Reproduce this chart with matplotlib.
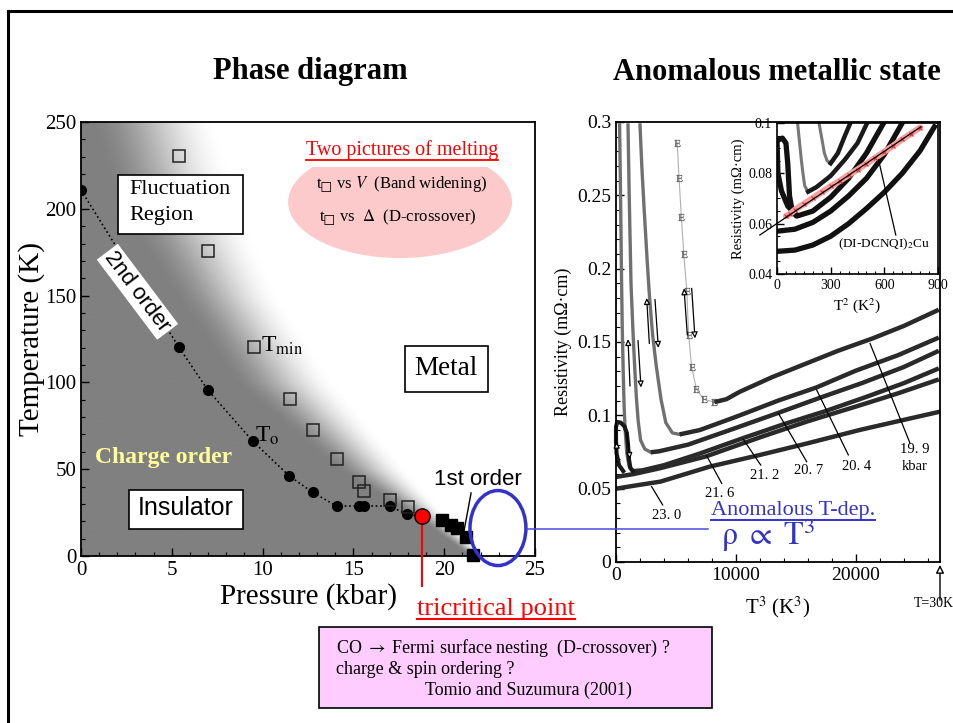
import numpy as np
import matplotlib
matplotlib.use('Agg')
import matplotlib.pyplot as plt
from matplotlib.patches import Ellipse, Rectangle
from matplotlib.lines import Line2D
from matplotlib.ticker import MultipleLocator, FuncFormatter

plt.rcParams['font.family'] = ['Liberation Serif', 'DejaVu Serif']
plt.rcParams['mathtext.fontset'] = 'stix'

W, H = 954, 723
SANS = ['Liberation Sans', 'DejaVu Sans']

# ---- phase diagram (P in kbar, T in K) ----
to_p = [0, 5.37, 6.97, 9.46, 11.47, 12.75, 14.07, 15.3, 15.56, 17.0, 17.94]
to_t = [210.8, 120.6, 95.8, 66.1, 46.1, 36.7, 28.8, 28.8, 28.8, 28.8, 24.0]
tmin_p = [5.4, 7.0, 9.5, 11.5, 12.8, 14.1, 15.3, 15.6, 17.0, 18.0]
tmin_t = [230.6, 175.7, 120.6, 90.6, 72.6, 55.7, 42.8, 37.6, 32.3, 28.0]
first_p = [19.9, 20.4, 20.7, 21.2, 21.6]
first_t = [21.0, 18.0, 16.0, 11.0, 0.5]
tcp_p, tcp_t = 18.8, 23.0

# insulator -> metal shading: centre of the fade and its half width
shade_t = [0, 25, 50, 100, 150, 200, 250]
shade_p = [21.8, 19.0, 16.0, 11.2, 8.0, 5.4, 4.0]
shade_w = [0.4, 1.0, 2.0, 2.9, 3.0, 3.6, 3.6]

# ---- resistivity vs T^3 (K^3, mOhm cm) ----
p199_x = [5100, 5250, 5450, 5650, 5900, 6050, 6300, 6700, 7300, 8200, 9200, 10300, 13000, 15900, 18500, 21400, 24000, 26900]
p199_y = [0.286, 0.262, 0.235, 0.210, 0.185, 0.155, 0.133, 0.118, 0.111, 0.109, 0.111, 0.116, 0.126, 0.1355, 0.144, 0.1525, 0.161, 0.172]
p204_x = [2000, 2150, 2350, 2600, 2800, 3050, 3350, 3750, 4150, 4700, 5300, 7000, 10000, 13500, 16700, 20000, 23500, 26900]
p204_y = [0.298, 0.270, 0.240, 0.205, 0.180, 0.155, 0.134, 0.111, 0.095, 0.088, 0.087, 0.090, 0.099, 0.110, 0.119, 0.1305, 0.141, 0.153]
p207_x = [1000, 1100, 1250, 1400, 1550, 1700, 1850, 2050, 2400, 2900, 3600, 6000, 9500, 13500, 17000, 20500, 24000, 26900]
p207_y = [0.298, 0.250, 0.190, 0.160, 0.134, 0.112, 0.096, 0.083, 0.077, 0.0748, 0.0755, 0.080, 0.090, 0.1016, 0.112, 0.122, 0.133, 0.144]
p212_x = [300, 380, 450, 520, 600, 680, 780, 900, 1100, 1500, 2200, 4000, 7000, 10600, 14000, 17500, 21000, 24000, 26900]
p212_y = [0.298, 0.250, 0.200, 0.160, 0.130, 0.105, 0.088, 0.074, 0.065, 0.062, 0.0625, 0.066, 0.074, 0.0845, 0.094, 0.103, 0.113, 0.122, 0.132]
p216_x = [0, 1500, 3700, 7500, 12000, 16000, 20000, 23500, 26900]
p216_y = [0.0580, 0.0600, 0.0640, 0.0720, 0.0850, 0.0960, 0.1060, 0.1150, 0.1245]
p230_x = [0, 1500, 3700, 7800, 12000, 16000, 20300, 23500, 27000]
p230_y = [0.0500, 0.0520, 0.0548, 0.0650, 0.0730, 0.0810, 0.0900, 0.0960, 0.1025]
loop_x = [600, 250, 50, 0, 0, 100, 400, 700, 900, 1000, 1080, 1200, 1400]
loop_y = [0.062, 0.066, 0.074, 0.082, 0.092, 0.0955, 0.0950, 0.0925, 0.088, 0.080, 0.070, 0.064, 0.062]

# hysteresis arrows (start -> end)
hyst_x0 = [5944, 6306, 2778, 3250, 1167, 1833, 55, 889]
hyst_y0 = [0.1548, 0.1866, 0.149, 0.179, 0.120, 0.151, 0.077, 0.0884]
hyst_x1 = [5667, 6583, 2556, 3528, 1000, 2083, 55, 1167]
hyst_y1 = [0.1866, 0.1525, 0.180, 0.146, 0.152, 0.119, 0.082, 0.0702]

# pressure labels with leader lines
lab_text = ['19. 9', '20. 4', '20. 7', '21. 2', '21. 6', '23. 0']
lab_x = [24917, 20060, 16030, 12420, 8670, 4220]
lab_y = [0.0764, 0.065, 0.0627, 0.0593, 0.0468, 0.032]
lead_x0 = [24500, 19360, 15890, 12060, 8810, 3890]
lead_y0 = [0.081, 0.073, 0.0684, 0.0661, 0.0536, 0.0389]
lead_x1 = [21170, 16720, 13530, 10610, 7560, 2970]
lead_y1 = [0.149, 0.1173, 0.1014, 0.0836, 0.0723, 0.0514]

# ---- inset: resistivity vs T^2 ----
in204_x = [235, 245, 255, 265, 280, 300, 340, 380, 410]
in204_y = [0.1, 0.096, 0.092, 0.088, 0.085, 0.084, 0.088, 0.095, 0.1]
in207_x = [115, 125, 135, 145, 155, 174, 220, 300, 380, 450, 504]
in207_y = [0.1, 0.093, 0.086, 0.080, 0.075, 0.0727, 0.0745, 0.079, 0.0855, 0.092, 0.1]
in212_x = [100, 60, 25, 5, 0, 30, 50, 60, 70, 85, 110, 200, 300, 400, 500, 596]
in212_y = [0.064, 0.067, 0.073, 0.080, 0.093, 0.094, 0.092, 0.084, 0.071, 0.065, 0.063, 0.065, 0.0705, 0.078, 0.088, 0.1]
in216_x = [0, 100, 200, 300, 400, 500, 600, 700]
in216_y = [0.057, 0.0578, 0.0605, 0.065, 0.071, 0.078, 0.0875, 0.1]
in230_x = [0, 100, 200, 300, 400, 500, 600, 700, 800, 880]
in230_y = [0.049, 0.0495, 0.0515, 0.055, 0.060, 0.066, 0.0725, 0.080, 0.089, 0.0985]
cu_x = [50, 75, 100, 150, 200, 250, 300, 350, 400, 450, 500, 550, 600, 650, 700, 750, 800]
cu_y = [0.0630, 0.0640, 0.0655, 0.0678, 0.0702, 0.0725, 0.0748, 0.0770, 0.0793, 0.0815,
        0.0838, 0.0862, 0.0886, 0.0910, 0.0935, 0.0958, 0.0982]
fit_x = [-96, 804]
fit_y = [0.0555, 0.0985]


def box(px0, py0, px1, py1):
    return [px0 / W, 1 - py1 / H, (px1 - px0) / W, (py1 - py0) / H]


fig = plt.figure(figsize=(W / 100, H / 100), dpi=100)


def put(px, py, s, **kw):
    return fig.text(px / W, 1 - py / H, s, **kw)


def underline(t, color, lw=1.3, off=2):
    fig.canvas.draw()
    bb = t.get_window_extent()
    y = bb.y0 + off
    fig.add_artist(Line2D([bb.x0 / W, bb.x1 / W], [y / H, y / H], color=color, lw=lw,
                          transform=fig.transFigure))


# slide frame
fig.add_artist(Line2D([8 / W, 1.01], [1 - 11 / H] * 2, color='k', lw=2.2, transform=fig.transFigure))
fig.add_artist(Line2D([8 / W] * 2, [1 - 11 / H, -0.01], color='k', lw=2.2, transform=fig.transFigure))

put(310, 72, 'Phase diagram', fontsize=22, fontweight='bold', ha='center', va='center')
put(777, 72, 'Anomalous metallic state', fontsize=22, fontweight='bold', ha='center', va='center')

# ================= phase diagram =================
ax = fig.add_axes(box(81, 122, 535, 556))
pp, tt = np.meshgrid(np.linspace(0, 25, 600), np.linspace(0, 250, 600))
pm = np.interp(tt, shade_t, shade_p)
hw = np.interp(tt, shade_t, shade_w)
s = np.clip((pp - pm + hw) / (2 * hw), 0, 1)
s = s * s * (3 - 2 * s)
ax.imshow(0.5 + 0.5 * s, cmap='gray', vmin=0, vmax=1, extent=[0, 25, 0, 250],
          origin='lower', aspect='auto', interpolation='bilinear', zorder=0)
ax.set_xlim(0, 25)
ax.set_ylim(0, 250)
ax.xaxis.set_major_locator(MultipleLocator(5))
ax.xaxis.set_minor_locator(MultipleLocator(1))
ax.yaxis.set_major_locator(MultipleLocator(50))
ax.yaxis.set_minor_locator(MultipleLocator(10))
ax.tick_params(which='both', direction='in', labelsize=15)
ax.tick_params(which='major', length=6, width=1)
ax.tick_params(which='minor', length=3, width=0.8)
for sp in ax.spines.values():
    sp.set_linewidth(1.3)
ax.set_xlabel('Pressure (kbar)', fontsize=21, labelpad=2)
ax.set_ylabel('Temperature (K)', fontsize=21, labelpad=0)

# pink "melting" bubble, flattened on top by the heading
ax.add_patch(Ellipse((17.57, 203.9), 12.33, 64.5, fc='#fccaca', ec='none', zorder=1))
ax.add_patch(Rectangle((11.5, 224.3), 11.5, 30, fc='white', ec='none', zorder=1))

ax.plot(to_p + [tcp_p], to_t + [tcp_t], ls=':', color='k', lw=1.2, zorder=2)
ax.plot(to_p, to_t, 'o', color='k', ms=7, zorder=3)
ax.plot(tmin_p, tmin_t, 's', mfc='none', mec='#222222', mew=1.1, ms=8, zorder=3)
ax.plot(first_p, first_t, 's', color='k', ms=8, clip_on=False, zorder=3)
ax.plot([tcp_p, tcp_p], [tcp_t, -17], color='red', lw=1.5, clip_on=False, zorder=3)
ax.plot(tcp_p, tcp_t, 'o', mfc='red', mec='k', ms=11, mew=1, zorder=4)
ax.plot([21.48, 21.07], [36.3, 13.2], color='k', lw=1, zorder=3)

ax.add_patch(Rectangle((2.04, 185.5), 6.88, 34.0, fc='white', ec='k', lw=1.2, zorder=4))
ax.text(2.64, 211.4, 'Fluctuation', fontsize=16, va='center', zorder=5)
ax.text(2.64, 195.9, 'Region', fontsize=16, va='center', zorder=5)
ax.add_patch(Rectangle((17.82, 94.5), 4.59, 26.6, fc='white', ec='k', lw=1.2, zorder=4))
ax.text(20.1, 107.8, 'Metal', fontsize=19.5, ha='center', va='center', zorder=5)
ax.add_patch(Rectangle((2.62, 15.6), 6.3, 22.4, fc='white', ec='k', lw=1.2, zorder=4))
ax.text(5.78, 27.5, 'Insulator', fontsize=18, family=SANS, ha='center', va='center', zorder=5)
ax.text(3.11, 152.2, '2nd order', fontsize=16, family=SANS, rotation=-53, ha='center', va='center',
        bbox=dict(fc='white', ec='none', pad=2), zorder=5)
ax.text(4.52, 56.5, 'Charge order', fontsize=17, fontweight='bold', color='#ffff99',
        ha='center', va='center', zorder=5)
ax.text(21.83, 43.8, '1st order', fontsize=16, family=SANS, ha='center', va='center', zorder=5)
ax.text(9.91, 117.5, r'T$_{\rm min}$', fontsize=17, va='baseline', zorder=5)
ax.text(9.58, 65.7, r'T$_{\rm o}$', fontsize=17, va='baseline', zorder=5)
ax.text(17.67, 213.7, r't$_{□}$ vs $V$  (Band widening)', fontsize=12, ha='center', va='center', zorder=5)
ax.text(17.46, 194.7, r't$_{□}$ vs  $\mathit{\Delta}$  (D-crossover)', fontsize=12, ha='center', va='center', zorder=5)

ax.add_patch(Ellipse((22.96, 16.1), 3.08, 43.2, fc='none', ec='#3333cc', lw=2.5, clip_on=False, zorder=6))
fig.add_artist(Line2D([527 / W, 708 / W], [1 - 529 / H] * 2, color='#4a4ae0', lw=1.1, transform=fig.transFigure))

t_melt = put(401.8, 150, 'Two pictures of melting', fontsize=14.5, color='red', ha='center', va='center')
t_tcp = put(496, 609, 'tricritical point', fontsize=19, color='red', ha='center', va='center')

# ================= resistivity vs T^3 =================
ax2 = fig.add_axes(box(616, 122, 940, 562))
ax2.set_xlim(0, 27000)
ax2.set_ylim(0, 0.3)
ax2.xaxis.set_major_locator(MultipleLocator(10000))
ax2.xaxis.set_minor_locator(MultipleLocator(2000))
ax2.yaxis.set_major_locator(MultipleLocator(0.05))
ax2.yaxis.set_minor_locator(MultipleLocator(0.01))
fmt = FuncFormatter(lambda v, pos: '%g' % round(v, 6))
ax2.xaxis.set_major_formatter(fmt)
ax2.yaxis.set_major_formatter(fmt)
ax2.tick_params(which='both', direction='in', labelsize=14)
ax2.tick_params(which='major', length=6, width=1)
ax2.tick_params(which='minor', length=3, width=0.8)
for sp in ax2.spines.values():
    sp.set_linewidth(1.3)
ax2.set_xlabel(r'T$^3$ (K$^3$)', fontsize=15, labelpad=8)
ax2.set_ylabel('Resistivity (mΩ·cm)', fontsize=13, labelpad=4)

curves = [(p199_x, p199_y), (p204_x, p204_y), (p207_x, p207_y),
          (p212_x, p212_y), (p216_x, p216_y), (p230_x, p230_y)]
for i, (x, y) in enumerate(curves):
    k = int(np.argmin(y))
    if k > 0:
        if i == 0:
            ax2.plot(x[:k + 1], y[:k + 1], color='#b0b0b0', lw=0.8)
            ax2.plot(x[:k + 1], y[:k + 1], ls='none', marker=r'$\mathrm{E}$', ms=5,
                     color='#555555', mew=0.2)
        else:
            ax2.plot(x[:k + 1], y[:k + 1], color='#707070', lw=2.4)
    ax2.plot(x[k:], y[k:], color='#2a2a2a', lw=3.2, solid_capstyle='butt')
ax2.plot(loop_x, loop_y, color='#1a1a1a', lw=3.0, clip_on=False)

for x0, y0, x1, y1 in zip(hyst_x0, hyst_y0, hyst_x1, hyst_y1):
    ax2.annotate('', xy=(x1, y1), xytext=(x0, y0),
                 arrowprops=dict(arrowstyle='-|>', fc='white', ec='k', lw=0.9, mutation_scale=9,
                                 shrinkA=0, shrinkB=0))

for s_, x, y, x0, y0, x1, y1 in zip(lab_text, lab_x, lab_y, lead_x0, lead_y0, lead_x1, lead_y1):
    ax2.plot([x0, x1], [y0, y1], color='k', lw=0.9)
    ax2.text(x, y, s_, fontsize=10.5, ha='center', va='center')
ax2.text(24917, 0.0648, 'kbar', fontsize=10.5, ha='center', va='center')

# T = 30 K marker
ax2.annotate('', xy=(27000, -0.002), xytext=(27000, -0.026),
             arrowprops=dict(arrowstyle='-|>', fc='white', ec='k', lw=1, mutation_scale=12,
                             shrinkA=0, shrinkB=0), annotation_clip=False)
ax2.text(24800, -0.028, 'T=30K', fontsize=10, ha='left', va='center', clip_on=False)

t_anom = put(793, 510, 'Anomalous T-dep.', fontsize=16, color='#3333cc', ha='center', va='center')
put(768, 535, r'$\mathrm{\rho}\ \propto\ \mathrm{T}^3$', fontsize=23, color='#3333cc', ha='center', va='center')

# ================= inset: T^2 =================
ax3 = fig.add_axes(box(777, 123, 938, 274))
ax3.set_facecolor('white')
ax3.set_xlim(0, 900)
ax3.set_ylim(0.04, 0.1)
ax3.xaxis.set_major_locator(MultipleLocator(300))
ax3.xaxis.set_minor_locator(MultipleLocator(50))
ax3.yaxis.set_major_locator(MultipleLocator(0.02))
ax3.yaxis.set_minor_locator(MultipleLocator(0.005))
ax3.xaxis.set_major_formatter(fmt)
ax3.yaxis.set_major_formatter(fmt)
ax3.tick_params(which='both', direction='in', labelsize=10)
ax3.tick_params(which='major', length=5, width=1)
ax3.tick_params(which='minor', length=2.5, width=0.8)
for sp in ax3.spines.values():
    sp.set_linewidth(1.2)
ax3.set_xlabel(r'T$^2$ (K$^2$)', fontsize=11, labelpad=3)
ax3.set_ylabel('Resistivity (mΩ·cm)', fontsize=10.5, labelpad=2)

for x, y in [(in204_x, in204_y), (in207_x, in207_y)]:
    k = int(np.argmin(y))
    ax3.plot(x[:k + 1], y[:k + 1], color='#777777', lw=2.2)
    ax3.plot(x[k:], y[k:], color='#1a1a1a', lw=3.2)
for x, y in [(in212_x, in212_y), (in216_x, in216_y), (in230_x, in230_y)]:
    ax3.plot(x, y, color='#111111', lw=3.8)
ax3.plot(cu_x, cu_y, color='#f4a0a0', lw=4.5, solid_capstyle='round')
ax3.plot(cu_x, cu_y, ls='none', marker='x', ms=3, mew=0.8, color='#e03030')
ax3.plot(fit_x, fit_y, color='k', lw=0.9, clip_on=False)
ax3.plot([664, 568], [0.0555, 0.0853], color='k', lw=0.9)
ax3.text(600, 0.052, r'(DI-DCNQI)$_2$Cu', fontsize=9.5, ha='center', va='center')

# note box
fig.add_artist(Rectangle((319 / W, 1 - 708 / H), (712 - 319) / W, (708 - 627) / H,
                         transform=fig.transFigure, fc='#ffccff', ec='k', lw=1.2))
put(336, 648, r'CO $\rightarrow$ Fermi surface nesting  (D-crossover) ?', fontsize=13, va='center')
put(336, 669, 'charge & spin ordering ?', fontsize=13, va='center')
put(528, 690, 'Tomio and Suzumura (2001)', fontsize=13, ha='center', va='center')

underline(t_melt, 'red', 1.3, 0)
underline(t_tcp, 'red', 1.5, 1)
underline(t_anom, '#3333cc', 1.4, 0)

fig.savefig('out.png', dpi=100)
